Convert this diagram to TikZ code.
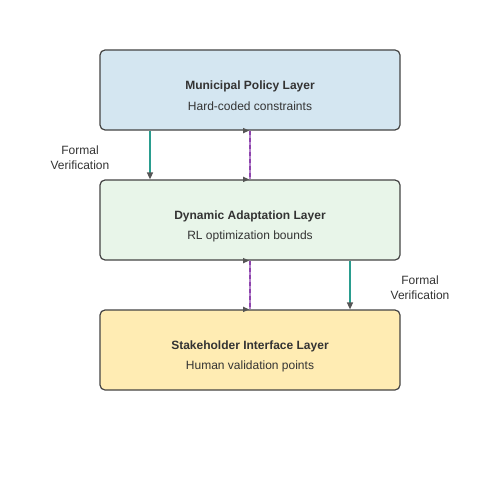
\documentclass[tikz,border=0pt]{standalone}
\usepackage{fontspec}
\setmainfont{Liberation Sans}
\usetikzlibrary{positioning,arrows.meta}
\definecolor{policyblue}{HTML}{D4E6F1}
\definecolor{adaptgreen}{HTML}{E8F5E9}
\definecolor{stakeyellow}{HTML}{FFECB3}
\definecolor{edgegray}{HTML}{444444}
\definecolor{textgray}{HTML}{333333}
\definecolor{tipgray}{HTML}{555555}
\definecolor{verifyteal}{HTML}{2A9D8F}
\definecolor{flowpurple}{HTML}{8E44AD}
\definecolor{flowlight}{HTML}{B584CC}
\tikzset{
  layerbox/.style={draw=edgegray, line width=1.2pt, rounded corners=5pt,
    minimum width=300pt, minimum height=80pt, inner sep=0pt},
  layertitle/.style={text=textgray, font=\fontsize{12}{14}\selectfont\bfseries},
  layernote/.style={text=textgray, font=\fontsize{12}{14}\selectfont},
  verifynote/.style={text=textgray, font=\fontsize{12}{15}\selectfont, align=center},
  verifyline/.style={draw=verifyteal, line width=1.4pt,
    -{Triangle[length=7pt,width=6pt,color=tipgray]}},
}
\begin{document}
\begin{tikzpicture}[x=1pt,y=-1pt]
\useasboundingbox (0,0) rectangle (500,500);
% layers
\node[layerbox, fill=policyblue] (policy) at (250,90) {};
\node[layerbox, fill=adaptgreen] (adapt) at (250,220) {};
\node[layerbox, fill=stakeyellow] (stake) at (250,350) {};
\node[layertitle] (policyT) at (250,86) {Municipal Policy Layer};
\node[layernote] (policyN) at (250,106) {Hard-coded constraints};
\node[layertitle] (adaptT) at (250,216) {Dynamic Adaptation Layer};
\node[layernote] (adaptN) at (250,236) {RL optimization bounds};
\node[layertitle] (stakeT) at (250,346) {Stakeholder Interface Layer};
\node[layernote] (stakeN) at (250,366) {Human validation points};
% verification
\draw[verifyline] ([xshift=-100pt]policy.south) -- ([xshift=-100pt]adapt.north);
\draw[verifyline] ([xshift=100pt]adapt.south) -- ([xshift=100pt]stake.north);
\node[verifynote] (verifyL) at (80,158) {Formal\\Verification};
\node[verifynote] (verifyR) at (420,288) {Formal\\Verification};
% two-way flow
\foreach \a/\b in {policy/adapt, adapt/stake}{
  \draw[flowlight, line width=2pt] (\a.south) -- (\b.north);
  \draw[flowpurple, line width=2pt, dash pattern=on 4pt off 3pt] (\a.south) -- (\b.north);
  \fill[tipgray] ([xshift=-1pt]\a.south) -- ++(-6,-2.8) -- ++(0,5.6) -- cycle;
  \fill[tipgray] ([xshift=-1pt]\b.north) -- ++(-6,-2.8) -- ++(0,5.6) -- cycle;
}
\end{tikzpicture}
\end{document}
